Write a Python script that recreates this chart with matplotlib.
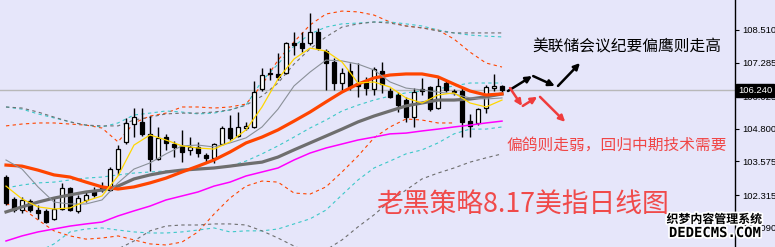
import numpy as np
import matplotlib
matplotlib.use("Agg")
import matplotlib.pyplot as plt
import matplotlib.patheffects as pe

nan = np.nan

# ---------------- data ----------------
opens = [102.99,102.17,101.75,102.09,101.75,101.72,101.42,101.79,102.58,101.72,
         102.13,102.47,102.50,102.50,103.29,104.31,104.98,105.06,104.61,103.67,
         104.49,104.23,104.16,104.01,104.12,103.82,103.71,104.23,104.83,104.53,
         104.83,104.87,106.30,106.90,106.86,106.90,108.02,108.02,108.02,108.44,
         107.72,107.31,106.52,106.97,106.52,106.60,106.30,106.97,106.22,106.07,
         105.88,105.24,106.30,106.37,105.58,106.52,106.22,106.22,105.09,105.02,
         105.58,106.35,106.41]
highs = [103.07,102.24,102.24,102.17,101.94,101.79,102.20,102.77,102.62,102.32,
         102.47,102.62,102.80,103.37,104.19,105.21,105.58,105.58,105.28,104.87,
         104.61,104.34,104.76,104.49,104.31,103.89,104.27,104.91,105.32,105.43,
         105.06,106.60,107.08,107.08,107.65,108.06,108.44,108.44,109.15,108.59,
         107.80,107.46,107.08,107.27,107.27,106.75,107.12,107.31,106.33,106.18,
         106.00,106.33,106.71,106.41,106.75,106.63,106.30,106.33,105.36,105.58,
         106.45,106.86,106.45]
lows = [101.94,101.68,101.64,101.68,101.42,101.27,101.38,101.75,101.72,101.64,
        102.05,102.24,102.43,102.47,103.07,104.23,104.49,104.53,103.22,103.63,
        104.01,103.74,103.55,103.82,103.74,103.52,103.52,104.19,104.38,104.49,
        104.76,104.83,106.22,106.63,106.63,106.86,107.57,107.68,107.95,107.76,
        106.26,106.26,106.26,106.26,106.00,106.07,106.07,106.15,105.96,105.43,
        105.06,104.87,106.07,105.47,105.54,106.18,106.07,104.49,104.49,104.94,
        105.39,106.22,106.18]
closes = [102.02,101.75,102.13,101.75,101.64,101.30,101.79,102.58,101.75,102.20,
          102.32,102.32,102.58,103.29,104.04,105.02,105.24,104.61,103.67,104.46,
          104.27,104.12,103.93,104.12,103.89,103.71,104.23,104.83,104.46,104.87,
          104.91,106.18,106.82,106.84,106.75,108.02,107.95,107.83,108.44,107.83,
          107.27,106.52,106.90,106.37,106.41,106.33,107.05,106.48,106.00,105.69,
          105.24,106.18,106.22,105.54,106.41,106.26,106.18,105.06,104.91,105.54,
          106.37,106.41,106.24]

# indicator lines, read every second bar
ma5 = [102.65,102.17,101.87,101.79,101.83,102.09,102.28,103.03,104.19,104.57,
       104.38,104.16,104.08,104.04,104.31,104.76,105.62,106.67,107.42,107.83,
       107.72,107.31,106.52,106.56,106.37,105.96,105.77,106.07,106.15,105.77,
       105.62,105.88]
ma10 = [103.63,103.29,102.62,102.05,101.98,101.98,102.13,102.77,103.29,103.52,
        103.86,104.16,104.19,104.12,104.27,104.46,104.87,105.54,106.41,106.93,
        107.38,107.35,107.23,107.01,106.56,106.33,106.26,106.18,106.11,105.96,
        105.92,105.96]
ma20 = [103.44,103.40,103.25,103.07,102.99,102.80,102.62,102.54,102.62,102.77,
        102.95,103.18,103.40,103.63,103.93,104.27,104.49,104.76,105.09,105.43,
        105.81,106.18,106.48,106.71,106.82,106.86,106.86,106.75,106.48,106.22,
        106.07,106.11]
ma60 = [101.68,101.87,102.05,102.20,102.32,102.43,102.50,102.65,102.92,103.07,
        103.18,103.25,103.29,103.33,103.40,103.48,103.55,103.74,104.01,104.27,
        104.53,104.79,105.06,105.28,105.47,105.66,105.77,105.88,105.88,105.92,
        106.00,106.11]
ma120 = [100.59,100.78,100.93,101.04,101.15,101.23,101.30,101.53,101.72,101.90,
         102.13,102.28,102.43,102.65,102.80,103.03,103.18,103.33,103.63,103.89,
         104.08,104.23,104.38,104.49,104.61,104.64,104.72,104.79,104.87,104.94,
         105.02,105.09]
band_up_orange = [104.91,104.98,105.02,105.02,104.98,104.94,104.83,104.31,105.02,105.28,
                  105.39,105.62,105.62,105.58,105.62,105.73,106.45,107.38,108.06,108.70,
                  109.11,109.22,109.19,109.07,108.81,108.66,108.59,108.51,108.17,107.68,
                  107.27,107.12]
band_dn_orange = [101.98,101.83,101.38,100.97,100.78,100.66,100.70,100.78,100.63,100.48,
                  100.44,100.55,100.93,101.60,102.20,102.65,102.84,102.80,102.39,102.35,
                  102.62,103.18,103.78,104.46,104.87,105.17,105.13,105.02,105.02,nan,
                  nan,nan]
band_up_cyan = [105.62,105.54,105.36,105.21,105.06,104.94,104.87,105.02,105.32,105.39,
                105.47,105.43,105.36,105.39,105.51,105.69,106.60,107.23,107.91,108.36,
                108.62,108.74,108.77,108.81,108.81,108.74,108.66,108.51,108.40,108.32,
                108.28,108.25]
band_mid_cyan = [102.58,102.69,102.77,102.80,102.88,102.95,102.99,103.07,103.14,103.18,
                 103.22,103.25,103.29,103.33,103.40,103.59,103.86,104.16,104.49,104.83,
                 105.13,105.47,105.69,105.88,106.03,106.15,106.22,106.30,106.41,106.52,
                 106.52,106.52]
band_dn_cyan = [99.80,99.95,100.18,100.48,100.93,101.04,101.08,101.00,100.93,100.89,
                100.89,100.93,101.00,101.08,100.93,100.97,100.97,101.04,101.23,101.42,
                101.75,102.32,102.88,103.33,103.59,103.86,104.01,104.27,104.61,104.79,
                104.79,104.87]
band_up_gray = [105.62,105.58,105.43,105.24,105.06,104.94,104.91,104.91,105.13,105.24,
                105.36,105.39,105.39,105.43,105.51,105.69,106.03,106.52,107.23,107.80,
                108.25,108.62,108.74,108.81,108.77,108.66,108.59,108.47,108.40,108.40,
                108.40,108.40]
band_dn_gray = [nan,nan,nan,nan,nan,nan,99.80,100.29,100.59,100.97,
                101.15,101.19,101.19,101.23,101.23,101.19,100.97,100.70,100.40,100.14,
                100.25,100.63,101.12,101.57,102.09,102.50,102.92,103.14,103.33,103.55,
                103.71,103.86]

yticks = [108.510, 107.285, 106.025, 104.800, 103.575, 102.315, 101.090]
last_price = 106.240

title_text = "老黑策略8.17美指日线图"
note_up = "美联储会议纪要偏鹰则走高"
note_down = "偏鸽则走弱，回归中期技术需要"

# arrow paths (bar index, price)
black_arrows = [((62.75, 106.22), (65.75, 106.78)),
                ((65.9, 106.78), (68.6, 106.41)),
                ((69.0, 106.41), (71.75, 107.27))]
red_arrows = [((63.0, 106.33), (64.5, 105.66)),
              ((64.6, 105.66), (66.4, 106.00)),
              ((66.75, 106.00), (69.9, 105.06))]

# ---------------- plot ----------------
BG = "#e6e6fa"
plt.rcParams['font.family'] = ['Noto Sans CJK SC', 'DejaVu Sans']

fig = plt.figure(figsize=(7.75, 2.47), dpi=100, facecolor=BG)
ax = fig.add_axes([0, 0, 735/775, 1], facecolor=BG)

n = len(opens)
x = np.arange(n)
xs2 = np.arange(0, n, 2)

ax.set_xlim(-0.75, 91.125)
ax.set_ylim(100.364, 109.636)

# current price line
ax.axhline(last_price, color="#b8b8b8", lw=1.0, zorder=1)

# dashed bands
dash = (0, (3, 3))
ax.plot(xs2, band_up_orange, color="#ff4500", lw=0.8, ls=dash, zorder=2)
ax.plot(xs2, band_dn_orange, color="#ff4500", lw=0.8, ls=dash, zorder=2)
ax.plot(xs2, band_up_cyan, color="#3cc8c8", lw=0.8, ls=dash, zorder=2)
ax.plot(xs2, band_mid_cyan, color="#3cc8c8", lw=0.8, ls=dash, zorder=2)
ax.plot(xs2, band_dn_cyan, color="#3cc8c8", lw=0.8, ls=dash, zorder=2)
ax.plot(xs2, band_up_gray, color="#6e6e6e", lw=0.8, ls=dash, zorder=2)
ax.plot(xs2, band_dn_gray, color="#6e6e6e", lw=0.8, ls=dash, zorder=2)

# candles
o = np.array(opens); c = np.array(closes)
up = c >= o
ax.vlines(x, lows, highs, color="black", lw=1.0, zorder=3)
bottom = np.minimum(o, c)
height = np.maximum(np.abs(c - o), 0.03)
ax.bar(x[up], height[up], bottom=bottom[up], width=0.62, color="white",
       edgecolor="black", linewidth=0.9, zorder=4)
ax.bar(x[~up], height[~up], bottom=bottom[~up], width=0.62, color="black",
       edgecolor="black", linewidth=0.9, zorder=4)

# moving averages
ax.plot(xs2, ma120, color="#ff00ff", lw=1.1, zorder=5)
ax.plot(xs2, ma60, color="#6e6e6e", lw=2.3, zorder=5)
ax.plot(xs2, ma20, color="#ff4500", lw=2.3, zorder=5)
ax.plot(xs2, ma10, color="#8a9098", lw=0.8, zorder=6)
ax.plot(xs2, ma5, color="#ffd700", lw=0.9, zorder=6)

# axis styling
for s in ["left", "top", "bottom"]:
    ax.spines[s].set_visible(False)
ax.spines["right"].set_color("black")
ax.spines["right"].set_linewidth(1.0)
ax.set_xticks([])
ax.yaxis.tick_right()
ax.set_yticks(yticks)
ax.set_yticklabels([f"{v:.3f}" for v in yticks])
ax.tick_params(axis="y", direction="out", length=3, width=0.8, pad=2,
               labelsize=6.8, colors="black")
for lab in ax.get_yticklabels():
    lab.set_fontfamily(["Liberation Sans", "DejaVu Sans"])

# last price box
ax.text(1.0045, last_price, f"{last_price:.3f}", transform=ax.get_yaxis_transform(),
        ha="left", va="center", fontsize=6.8, color="white",
        family=["Liberation Sans", "DejaVu Sans"], zorder=10,
        bbox=dict(boxstyle="square,pad=0.2", fc="black", ec="black"))

# arrows
for (s, e) in black_arrows:
    ax.annotate("", xy=e, xytext=s,
                arrowprops=dict(arrowstyle="-|>", color="black", lw=1.8,
                                mutation_scale=9, shrinkA=0, shrinkB=0), zorder=8)
for (s, e) in red_arrows:
    ax.annotate("", xy=e, xytext=s,
                arrowprops=dict(arrowstyle="-|>", color="#f03c3c", lw=1.8,
                                mutation_scale=9, shrinkA=0, shrinkB=0), zorder=8)

# texts
ax.text(532/735, 1 - 47/247, note_up, transform=ax.transAxes, ha="left", va="center",
        fontsize=11.3, color="black", zorder=9)
ax.text(507/735, 1 - 145/247, note_down, transform=ax.transAxes, ha="left", va="center",
        fontsize=11.3, color="#f04646", zorder=9)
ax.text(376/735, 1 - 205/247, title_text, transform=ax.transAxes, ha="left", va="center",
        fontsize=19.3, color="#f04a4a", zorder=9)

# watermark
wm = [pe.withStroke(linewidth=2.5, foreground="white")]
fig.text(714/775, 1 - 219.5/247, "织梦内容管理系统", ha="center", va="center",
         fontsize=8.6, fontweight="bold", color="black", path_effects=wm, zorder=20)
fig.text(715/775, 1 - 233/247, "DEDECMS.COM", ha="center", va="center",
         fontsize=10, fontweight="bold", color="black", path_effects=wm,
         family=["DejaVu Sans Mono"], zorder=20)

fig.savefig("out.png", dpi=100, facecolor=BG)
